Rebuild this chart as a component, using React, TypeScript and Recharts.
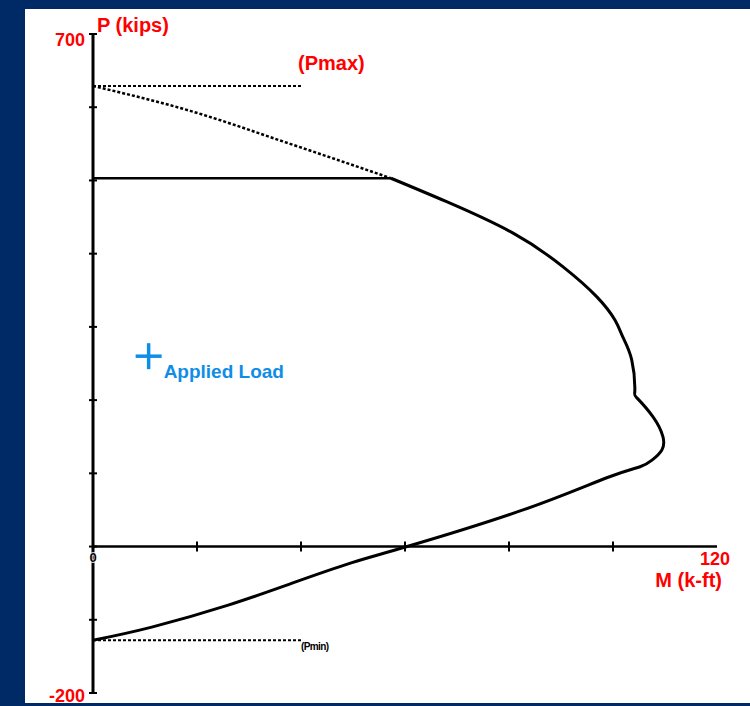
import React from "react";
import {
  ComposedChart,
  Line,
  XAxis,
  YAxis,
  ReferenceLine,
  ReferenceDot,
} from "recharts";

// interaction diagram, moment M (k-ft) vs axial load P (kips)
const curveM = [
  57.3, 68, 80.8, 90.4, 96.9, 100.4, 101.9, 103.6, 104.2, 104.6, 107.7, 109.6,
  109.4, 107.5, 105.2, 98.8, 82.7, 60.4, 49.8, 38.3, 26, 11.3, 0,
];
const curveP = [
  503, 471, 428, 382, 341, 309, 286, 255, 214, 203, 177, 150, 132, 118, 109,
  94, 50, 0, -22, -50, -80, -110, -128,
];

const cutoffM = [0, 18.7, 37.9, 57.3];
const cutoffP = [629, 595, 550, 503];

const capM = [0, 57.3];
const capP = [503, 503];

const pmaxM = [0, 40];
const pmaxP = [629, 629];

const pminM = [0, 40];
const pminP = [-128, -128];

const appliedM = 10.7;
const appliedP = 260;

const yTicks = [-200, -100, 0, 100, 200, 300, 400, 500, 600, 700];
const yLabels = [700, -200];
const xTicks = [20, 40, 60, 80, 100];

const zip = (ms: number[], ps: number[]) =>
  ms.map((m, i) => ({ m, p: ps[i] }));

const FONT = '"Liberation Sans", Arial, sans-serif';
const RED = "#ff0000";
const BLUE = "#108de6";

function YTick(props: any) {
  const { x, y, payload } = props;
  const v = payload.value;
  return (
    <g>
      <line x1={x + 4} x2={x + 12} y1={y} y2={y} stroke="#000" strokeWidth={2} />
      {yLabels.includes(v) && (
        <text
          x={x}
          y={y + (v === 700 ? 12 : 9)}
          textAnchor="end"
          fill={RED}
          fontSize={18}
          fontWeight="bold"
          fontFamily={FONT}
        >
          {v}
        </text>
      )}
    </g>
  );
}

export default function App() {
  return (
    <div
      style={{
        position: "fixed",
        left: 0,
        top: 0,
        width: 750,
        height: 706,
        background: "#002a66",
      }}
    >
      <div
        style={{
          position: "absolute",
          left: 25,
          top: 9,
          width: 725,
          height: 694,
          background: "#ffffff",
        }}
      />
      <div style={{ position: "absolute", left: 0, top: 0 }}>
        <ComposedChart
          width={750}
          height={706}
          margin={{ top: 34, right: 33, left: 33, bottom: 13 }}
        >
          <XAxis type="number" dataKey="m" domain={[0, 120]} hide />
          <YAxis
            type="number"
            dataKey="p"
            domain={[-200, 700]}
            ticks={yTicks}
            interval={0}
            width={60}
            tickSize={4}
            tickMargin={4}
            tickLine={false}
            axisLine={{ stroke: "#000", strokeWidth: 3 }}
            tick={<YTick />}
          />
          <ReferenceLine y={0} stroke="#000" strokeWidth={2.5} />
          {xTicks.map((t) => (
            <ReferenceDot
              key={t}
              x={t}
              y={0}
              shape={(p: any) => (
                <line
                  x1={p.cx}
                  x2={p.cx}
                  y1={p.cy - 5}
                  y2={p.cy + 5}
                  stroke="#000"
                  strokeWidth={2}
                />
              )}
            />
          ))}
          <Line
            data={zip(pmaxM, pmaxP)}
            dataKey="p"
            type="linear"
            stroke="#000"
            strokeWidth={2}
            strokeDasharray="3 2"
            dot={false}
            isAnimationActive={false}
          />
          <Line
            data={zip(cutoffM, cutoffP)}
            dataKey="p"
            type="monotone"
            stroke="#000"
            strokeWidth={2.5}
            strokeDasharray="3 2"
            dot={false}
            isAnimationActive={false}
          />
          <Line
            data={zip(capM, capP)}
            dataKey="p"
            type="linear"
            stroke="#000"
            strokeWidth={2.5}
            dot={false}
            isAnimationActive={false}
          />
          <Line
            data={zip(curveM, curveP)}
            dataKey="p"
            type="natural"
            stroke="#000"
            strokeWidth={3}
            dot={false}
            isAnimationActive={false}
          />
          <Line
            data={zip(pminM, pminP)}
            dataKey="p"
            type="linear"
            stroke="#000"
            strokeWidth={2}
            strokeDasharray="3 2"
            dot={false}
            isAnimationActive={false}
          />
          <ReferenceDot
            x={appliedM}
            y={appliedP}
            shape={(p: any) => (
              <g>
                <line x1={p.cx - 13} x2={p.cx + 13} y1={p.cy} y2={p.cy} stroke={BLUE} strokeWidth={3.5} />
                <line x1={p.cx} x2={p.cx} y1={p.cy - 13} y2={p.cy + 13} stroke={BLUE} strokeWidth={3.5} />
                <text x={p.cx + 15} y={p.cy + 22} fill={BLUE} fontSize={19} fontWeight="bold" fontFamily={FONT}>
                  Applied Load
                </text>
              </g>
            )}
          />
          <ReferenceDot
            x={0}
            y={700}
            shape={(p: any) => (
              <text x={p.cx + 4} y={p.cy - 2} fill={RED} fontSize={20} fontWeight="bold" fontFamily={FONT}>
                P (kips)
              </text>
            )}
          />
          <ReferenceDot
            x={pmaxM[1]}
            y={pmaxP[1]}
            shape={(p: any) => (
              <text x={p.cx - 3} y={p.cy - 16} fill={RED} fontSize={20} fontWeight="bold" fontFamily={FONT}>
                (Pmax)
              </text>
            )}
          />
          <ReferenceDot
            x={pminM[1]}
            y={pminP[1]}
            shape={(p: any) => (
              <text x={p.cx} y={p.cy + 10} fill="#000" fontSize={10} fontWeight="bold" fontFamily={FONT} letterSpacing={-0.6}>
                (Pmin)
              </text>
            )}
          />
          <ReferenceDot
            x={0}
            y={0}
            shape={(p: any) => (
              <text
                x={p.cx}
                y={p.cy + 15}
                textAnchor="middle"
                fill="#000"
                stroke="#fff"
                strokeWidth={1.5}
                paintOrder="stroke"
                fontSize={13}
                fontWeight="bold"
                fontFamily={FONT}
              >
                0
              </text>
            )}
          />
          <ReferenceDot
            x={120}
            y={0}
            shape={(p: any) => (
              <g>
                <text x={p.cx - 2} y={p.cy + 18} textAnchor="middle" fill={RED} fontSize={18} fontWeight="bold" fontFamily={FONT}>
                  120
                </text>
                <text x={p.cx + 5} y={p.cy + 40} textAnchor="end" fill={RED} fontSize={20} fontWeight="bold" fontFamily={FONT}>
                  M (k-ft)
                </text>
              </g>
            )}
          />
        </ComposedChart>
      </div>
    </div>
  );
}
